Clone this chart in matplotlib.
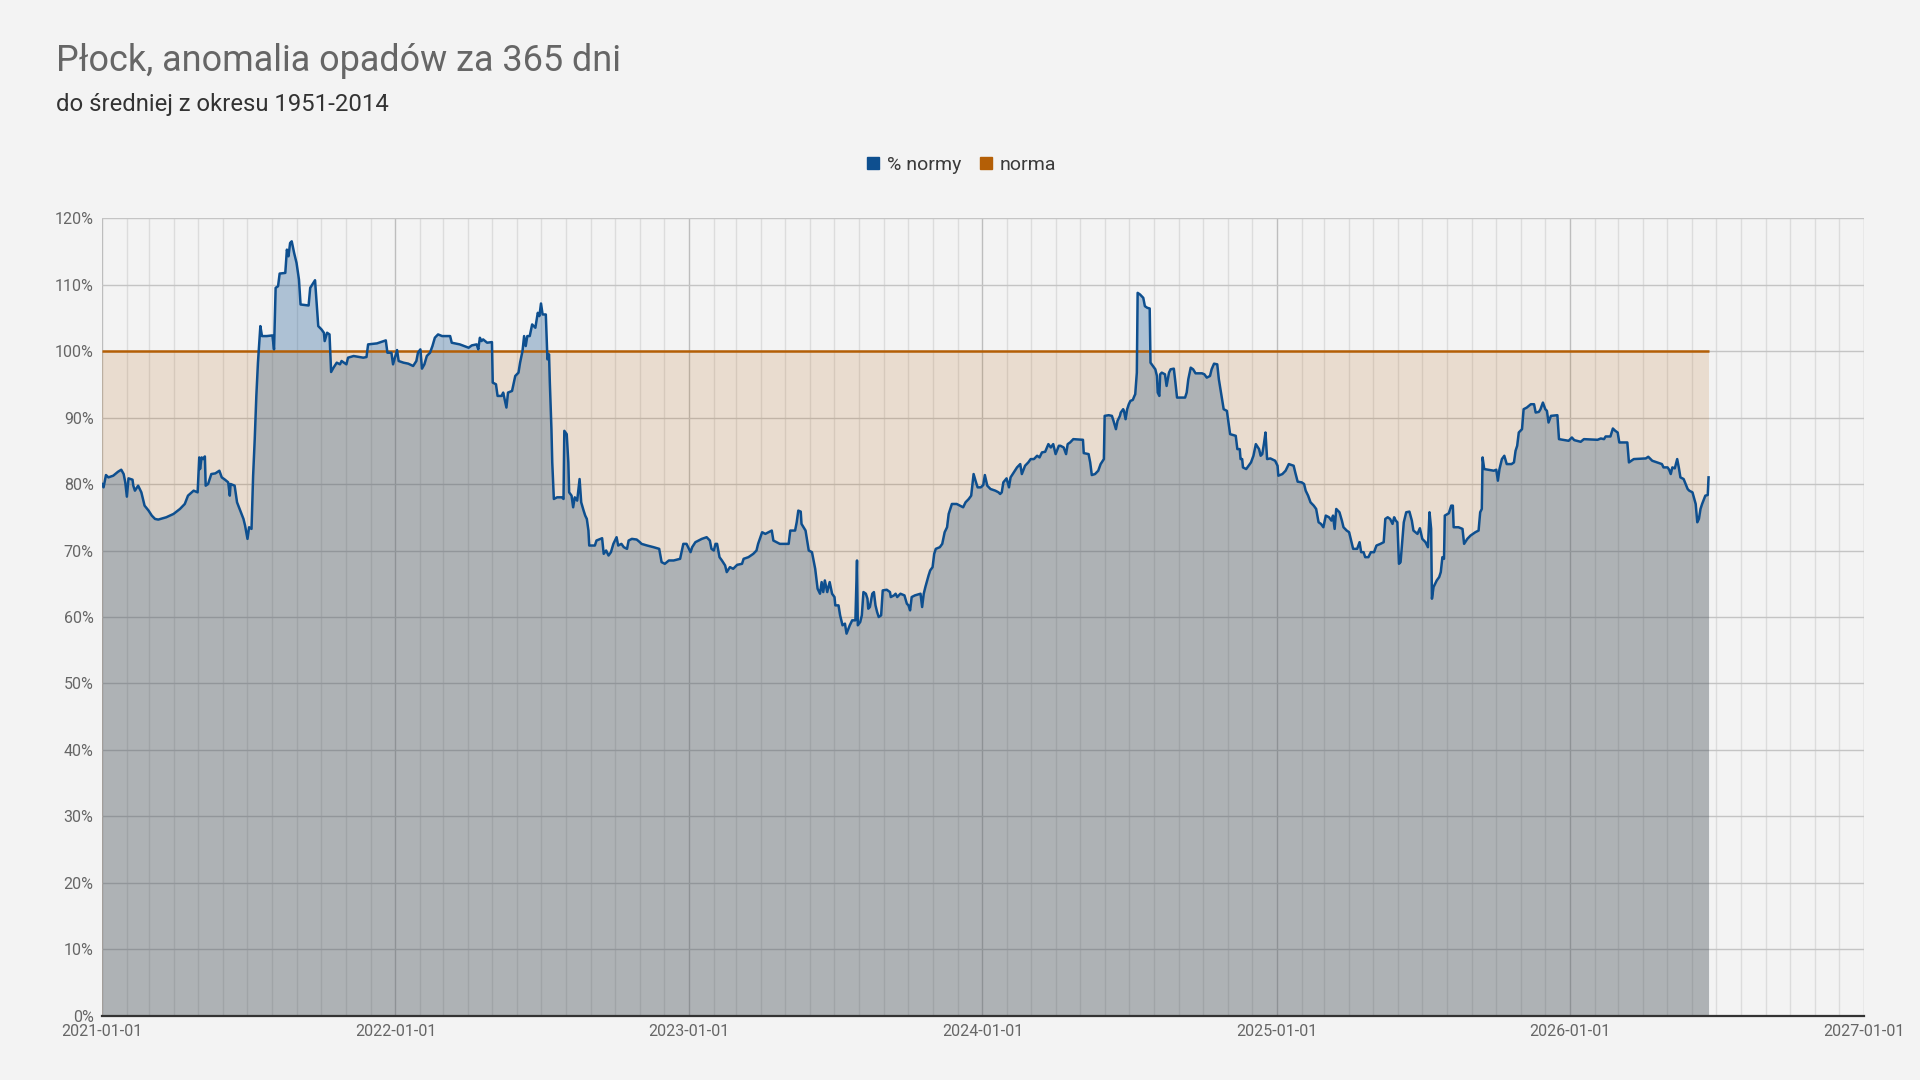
import numpy as np
import matplotlib
matplotlib.use("Agg")
import matplotlib.pyplot as plt
import matplotlib.dates as mdates
from matplotlib.lines import Line2D

plt.rcParams['font.family'] = ['Roboto', 'DejaVu Sans']

# ---- data -------------------------------------------------------------
start_date = "2021-01-01"
# day offsets from start_date
days = [
    0, 2, 5, 8, 14, 20, 24, 27, 29, 31, 33, 38, 39, 41, 45, 49, 53, 58, 62, 66,
    70, 80, 89, 97, 103, 107, 114, 119, 121, 122, 124, 126, 128, 129, 132, 136, 141, 146, 149, 153,
    157, 159, 160, 165, 168, 172, 176, 178, 181, 183, 186, 188, 190, 192, 194, 197, 199, 205, 212, 214,
    216, 219, 221, 228, 230, 232, 234, 236, 239, 242, 245, 247, 257, 259, 265, 267, 269, 273, 276, 277,
    280, 283, 285, 288, 292, 296, 298, 304, 306, 313, 325, 329, 331, 342, 353, 355, 360, 362, 367, 369,
    375, 381, 387, 391, 393,
    396, 398, 401, 404, 408, 411, 414, 418, 423, 433, 435, 445, 456, 460, 466, 468, 470, 472, 474, 479,
    485, 486, 490, 492, 497, 499, 503, 505, 510, 514, 518, 520, 523, 525, 527, 529, 532, 535, 539, 542,
    544, 546, 548, 552, 554, 556, 557, 559, 560, 562, 566, 572, 574, 575, 578, 580, 581, 584, 586, 588,
    591, 594, 596, 599, 601, 603, 605, 606, 613, 615, 622, 624, 627, 630, 633, 636, 640, 642, 646, 649,
    653, 655, 659, 665, 669, 671, 678, 686, 693, 696, 700, 705, 711, 719, 723, 727, 732, 734, 738, 746,
    752, 756, 758, 761, 763, 765, 768, 771, 775, 777, 781, 785, 790, 796,
    798, 804, 810, 814, 816, 821, 825, 829, 833, 835, 839, 843, 854, 856, 862, 864, 866, 869, 870, 875,
    879, 883, 887, 890, 893, 895, 897, 899, 902, 905, 908, 911, 912, 916, 918, 921, 924, 926, 930, 933,
    937, 939, 940, 943, 945, 947, 950, 952, 953, 955, 958, 960, 962, 964, 966, 969, 971, 976, 980, 981,
    985, 987, 989, 993, 998, 1001, 1003, 1005, 1007, 1011, 1018, 1020, 1022, 1024, 1028, 1030, 1033, 1035, 1037, 1042,
    1045, 1048, 1051, 1053, 1057, 1063, 1067, 1071, 1074, 1078, 1081, 1084, 1087, 1089, 1093, 1096, 1098, 1101, 1105, 1111,
    1115, 1117, 1119, 1121, 1125, 1128, 1130, 1134, 1138, 1142, 1144, 1148, 1152, 1155, 1159, 1163, 1166, 1169, 1173, 1177,
    1180, 1183, 1186, 1190,
    1192, 1196, 1199, 1201, 1204, 1208, 1220, 1221, 1227, 1229, 1231, 1235, 1239, 1242, 1246, 1247, 1252, 1256, 1258, 1261,
    1263, 1266, 1267, 1270, 1271, 1273, 1275, 1277, 1279, 1282, 1284, 1285, 1287, 1288, 1291, 1295, 1297, 1300, 1303, 1304,
    1307, 1310, 1312, 1313, 1315, 1316, 1318, 1322, 1324, 1327, 1329, 1333, 1335, 1337, 1347, 1349, 1351, 1354, 1357, 1360,
    1368, 1371, 1374, 1378, 1380, 1383, 1387, 1389, 1391, 1395, 1399, 1401, 1403, 1410, 1412, 1415, 1416, 1418, 1419, 1423,
    1426, 1429, 1432, 1435, 1439, 1441, 1443, 1445, 1447, 1449, 1453, 1459, 1462, 1463, 1468, 1472, 1476, 1482, 1484, 1487,
    1492, 1495, 1497, 1500, 1503, 1507, 1510, 1513, 1516, 1519, 1522, 1526, 1529, 1531, 1533, 1535, 1539, 1542, 1544, 1548,
    1551, 1553, 1556, 1561, 1564, 1566, 1569, 1571, 1575, 1578, 1582, 1585, 1590,
    1594, 1596, 1599, 1602, 1605, 1607, 1609, 1611, 1613, 1615, 1617, 1619, 1622, 1626, 1629, 1631, 1636, 1639, 1642, 1646,
    1649, 1651, 1653, 1654, 1656, 1660, 1663, 1665, 1667, 1669, 1670, 1675, 1678, 1680, 1681, 1687, 1692, 1694, 1698, 1702,
    1708, 1712, 1714, 1716, 1717, 1719, 1731, 1734, 1736, 1738, 1741, 1744, 1747, 1753, 1756, 1758, 1760, 1762, 1766, 1768,
    1772, 1777, 1781, 1783, 1787, 1789, 1792, 1795, 1797, 1799, 1802, 1810, 1812, 1824, 1828, 1831, 1839, 1843, 1860, 1864,
    1868, 1870, 1876, 1879, 1882, 1885, 1887, 1897, 1899, 1905, 1920, 1923, 1926, 1928, 1934, 1940, 1942, 1947, 1949, 1951,
    1953, 1956, 1959, 1961, 1963, 1967, 1969, 1972, 1974, 1978, 1982, 1984, 1986, 1988, 1990, 1994, 1997, 1998,
]
pct_normy = [
    80.0, 79.5, 81.35, 81.0, 81.25, 81.85, 82.15, 81.5, 80.25, 78.1, 80.85, 80.65, 79.75, 79.0, 79.75, 78.75, 76.75, 76.0, 75.25, 74.75,
    74.65, 75.0, 75.5, 76.25, 77.0, 78.25, 79.0, 78.75, 84.0, 82.25, 84.0, 83.75, 84.15, 79.75, 80.0, 81.5, 81.6, 82.0, 81.0, 80.65,
    80.25, 78.25, 80.0, 79.75, 77.25, 76.0, 74.75, 73.75, 71.75, 73.5, 73.25, 81.25, 86.75, 93.25, 98.25, 103.75, 102.25, 102.25, 102.35, 100.25,
    109.5, 109.75, 111.65, 111.75, 115.25, 114.25, 116.25, 116.5, 114.75, 113.25, 110.75, 107.0, 106.85, 109.5, 110.65, 107.25, 103.75, 103.25, 102.75, 101.5,
    102.75, 102.5, 96.85, 97.5, 98.25, 98.0, 98.5, 98.0, 99.0, 99.25, 99.0, 99.1, 101.0, 101.15, 101.6, 99.75, 99.75, 98.0, 100.15, 98.5,
    98.25, 98.1, 97.75, 98.5, 99.75,
    100.25, 97.35, 98.0, 99.25, 99.75, 100.75, 102.0, 102.5, 102.25, 102.25, 101.25, 101.0, 100.5, 100.85, 101.0, 100.25, 102.0, 101.5, 101.75, 101.25,
    101.35, 95.25, 95.0, 93.25, 93.25, 93.75, 91.5, 93.75, 94.0, 96.25, 96.75, 98.25, 100.0, 102.25, 100.75, 102.25, 102.25, 104.0, 103.5, 105.75,
    105.25, 107.15, 105.5, 105.5, 98.75, 99.5, 95.25, 88.25, 83.25, 77.75, 78.0, 78.0, 77.75, 88.0, 87.5, 83.25, 78.75, 78.25, 76.5, 78.0,
    77.5, 80.75, 77.25, 76.0, 75.25, 74.75, 73.0, 70.75, 70.75, 71.5, 71.85, 69.5, 70.0, 69.25, 69.75, 71.0, 72.0, 70.75, 71.0, 70.5,
    70.25, 71.5, 71.75, 71.65, 71.25, 71.0, 70.75, 70.5, 70.25, 68.25, 68.0, 68.5, 68.5, 68.75, 71.0, 71.0, 69.75, 70.5, 71.25, 71.75,
    72.0, 71.5, 70.25, 70.0, 71.0, 71.0, 69.0, 68.5, 67.75, 66.75, 67.5, 67.25, 67.85, 68.0,
    68.75, 69.0, 69.5, 70.0, 71.0, 72.75, 72.5, 72.75, 73.0, 71.5, 71.25, 71.0, 71.0, 73.0, 73.0, 74.25, 76.0, 75.85, 74.0, 73.0,
    70.0, 69.75, 67.25, 64.25, 63.5, 65.25, 63.75, 65.5, 63.75, 65.25, 63.5, 63.0, 61.75, 61.75, 60.25, 58.75, 59.0, 57.5, 58.75, 59.5,
    59.5, 68.5, 58.75, 59.25, 60.25, 63.75, 63.5, 62.75, 61.25, 61.5, 63.5, 63.75, 61.75, 60.75, 60.0, 60.25, 64.0, 64.1, 63.75, 63.0,
    63.25, 63.5, 63.0, 63.5, 63.25, 62.0, 61.75, 61.0, 63.0, 63.25, 63.5, 61.5, 63.5, 64.5, 66.25, 67.0, 67.5, 69.5, 70.25, 70.5,
    71.0, 72.75, 73.5, 75.5, 77.0, 77.0, 76.75, 76.5, 77.25, 77.75, 78.25, 81.5, 80.25, 79.5, 79.5, 79.85, 81.35, 79.75, 79.25, 79.0,
    78.75, 78.5, 78.75, 80.25, 80.85, 79.5, 81.0, 81.75, 82.5, 83.0, 81.5, 82.75, 83.25, 83.75, 83.75, 84.25, 84.0, 84.75, 84.85, 86.0,
    85.5, 86.0, 84.5, 85.75,
    85.75, 85.5, 84.5, 86.0, 86.25, 86.75, 86.65, 84.65, 84.5, 83.25, 81.35, 81.5, 82.0, 83.0, 83.75, 90.25, 90.35, 90.25, 89.5, 88.25,
    89.5, 90.25, 90.75, 91.25, 91.0, 89.75, 91.25, 92.0, 92.5, 92.65, 93.25, 93.5, 96.75, 108.75, 108.5, 108.0, 106.75, 106.5, 106.4, 98.25,
    97.75, 97.25, 96.25, 93.75, 93.25, 96.5, 96.75, 96.5, 94.75, 96.75, 97.25, 97.35, 95.25, 93.0, 93.0, 93.75, 95.75, 97.5, 97.25, 96.65,
    96.65, 96.5, 96.0, 96.25, 97.25, 98.1, 98.0, 95.75, 94.25, 91.25, 91.0, 89.25, 87.5, 87.25, 85.25, 85.25, 83.75, 83.75, 82.5, 82.25,
    82.75, 83.25, 84.25, 86.0, 85.25, 84.25, 84.5, 86.0, 87.75, 83.75, 83.85, 83.5, 82.75, 81.25, 81.5, 82.0, 83.0, 82.75, 81.75, 80.35,
    80.25, 80.0, 79.0, 78.25, 77.25, 76.75, 76.25, 74.25, 74.0, 73.5, 75.25, 75.0, 74.5, 75.25, 73.25, 76.25, 75.75, 74.5, 73.5, 73.0,
    72.75, 71.75, 70.25, 70.25, 71.25, 69.75, 69.75, 69.0, 69.0, 69.75, 69.75, 70.75, 71.0,
    71.25, 74.75, 75.0, 74.75, 74.0, 75.0, 74.5, 74.25, 68.0, 68.25, 71.25, 74.25, 75.75, 75.85, 74.5, 73.0, 72.5, 73.35, 71.75, 71.25,
    70.5, 75.75, 73.25, 62.75, 64.5, 65.5, 66.0, 66.75, 69.0, 68.75, 75.25, 75.6, 76.75, 76.75, 73.5, 73.5, 73.25, 71.0, 71.75, 72.25,
    72.75, 73.0, 75.75, 76.25, 84.0, 82.25, 82.0, 82.15, 80.5, 82.25, 83.75, 84.25, 83.0, 83.0, 83.25, 85.0, 85.75, 87.75, 88.25, 91.25,
    91.5, 92.0, 92.0, 90.75, 90.85, 91.25, 92.25, 91.25, 91.0, 89.25, 90.25, 90.35, 86.75, 86.5, 87.0, 86.6, 86.35, 86.75, 86.65, 86.85,
    86.75, 87.15, 87.15, 88.35, 88.0, 87.75, 86.25, 86.25, 83.25, 83.75, 83.85, 84.1, 83.75, 83.5, 83.25, 83.0, 82.5, 82.5, 82.15, 81.5,
    82.5, 82.35, 83.75, 82.5, 81.0, 80.75, 80.15, 79.25, 79.0, 78.75, 77.0, 74.25, 74.75, 76.25, 77.0, 78.25, 78.35, 81.0,
]
norma = 100.0

title = "Płock, anomalia opadów za 365 dni"
subtitle = "do średniej z okresu 1951-2014"
series_names = ["% normy", "norma"]
y_ticks = [0, 10, 20, 30, 40, 50, 60, 70, 80, 90, 100, 110, 120]
x_start, x_end = "2021-01-01", "2027-01-01"

# ---- styling ----------------------------------------------------------
BG = "#f3f3f3"
BLUE = "#0e4f8f"
ORANGE = "#b45f06"

dates = np.datetime64(start_date) + np.array(days).astype("timedelta64[D]")
vals = np.array(pct_normy)

fig = plt.figure(figsize=(19.2, 10.8), dpi=100, facecolor=BG)
ax = fig.add_axes([0.0531, 0.0593, 0.9176, 0.7388])
ax.set_facecolor(BG)

# grid
ax.set_xlim(np.datetime64(x_start), np.datetime64(x_end))
ax.set_ylim(0, 120)
ax.xaxis.set_major_locator(mdates.YearLocator())
ax.xaxis.set_major_formatter(mdates.DateFormatter("%Y-%m-%d"))
ax.xaxis.set_minor_locator(mdates.MonthLocator())
ax.set_yticks(y_ticks)
ax.set_yticklabels([f"{t}%" for t in y_ticks])
ax.grid(which="major", axis="y", color="#c4c4c4", lw=1.0, zorder=0)
ax.grid(which="major", axis="x", color="#bdbdbd", lw=1.0, zorder=0)
ax.grid(which="minor", axis="x", color="#dcdcdc", lw=1.0, zorder=0)
ax.set_axisbelow(True)

# fills
ax.fill_between(dates, 0, vals, color=BLUE, alpha=0.30, lw=0, zorder=1)
ax.fill_between([dates[0], dates[-1]], 0, norma, color=ORANGE, alpha=0.15, lw=0, zorder=2)
ax.plot([dates[0], dates[-1]], [norma, norma], color=ORANGE, lw=1.8, zorder=3,
        solid_capstyle="butt")
ax.plot(dates, vals, color=BLUE, lw=1.8, zorder=4, solid_joinstyle="round")

for s in ["left", "right", "top"]:
    ax.spines[s].set_visible(False)
ax.spines["bottom"].set_color("#333333")
ax.spines["bottom"].set_linewidth(1.6)
ax.spines["bottom"].set_zorder(5)

ax.tick_params(axis="both", which="both", length=0, labelsize=11.5, labelcolor="#666666")
ax.tick_params(axis="x", pad=6)
ax.tick_params(axis="y", pad=6)

# titles
fig.text(0.0292, 0.934, title, fontsize=25.9, color="#666666", va="baseline", ha="left")
fig.text(0.0292, 0.897, subtitle, fontsize=17.2, color="#333333", va="baseline", ha="left")

# legend
handles = [
    Line2D([], [], marker="s", ls="none", color=BLUE, markersize=9),
    Line2D([], [], marker="s", ls="none", color=ORANGE, markersize=9),
]
leg = fig.legend(handles, series_names, loc="center", bbox_to_anchor=(0.4995, 0.847),
                 ncol=2, frameon=False, fontsize=14, handletextpad=0.1, columnspacing=0.7,
                 handlelength=1.2, labelcolor="#3a3a3a")

fig.savefig("out.png", dpi=100, facecolor=BG)
